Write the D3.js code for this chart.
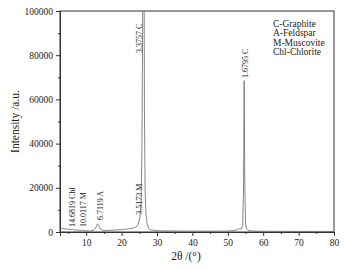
<!DOCTYPE html>
<html>
<head>
<meta charset="utf-8">
<script src="https://cdn.jsdelivr.net/npm/d3@7"></script>
<style>
  body { margin: 0; background: #fff; }
  text { font-family: "Liberation Serif", "Times New Roman", serif; fill: #222; }
</style>
</head>
<body>
<div id="chart"></div>
<script>
// XRD pattern
const twoTheta = [3, 4, 5, 5.8, 6.1, 6.5, 7.5, 8.6, 8.9, 9.3, 10, 11, 12, 12.6, 13.0, 13.3, 13.6, 14.0, 14.5, 15, 16, 18, 20, 22, 23, 24, 24.5, 24.9, 25.2, 25.5, 25.75, 25.95, 26.08, 26.3, 26.45, 26.65, 26.9, 27.2, 27.6, 28.1, 29, 30, 32, 35, 40, 45, 48, 50, 52, 52.8, 53.3, 53.8, 54.2, 54.45, 54.62, 54.78, 55.0, 55.3, 55.7, 56.5, 58, 60, 65, 70, 75, 80];
const intensity = [1600, 1400, 1200, 1100, 1300, 1000, 800, 700, 900, 650, 500, 450, 700, 1500, 3200, 3700, 2800, 1300, 800, 650, 700, 900, 1100, 1400, 1700, 2200, 3000, 4800, 7200, 13000, 38000, 95000, 160000, 160000, 55000, 18000, 8000, 3800, 1800, 1100, 800, 600, 500, 450, 400, 380, 400, 450, 700, 1200, 1500, 1300, 3000, 20000, 68500, 25000, 4000, 1500, 800, 500, 400, 350, 300, 280, 260, 250];

const peakLabels = ["14.6819 Chl", "10.0117 M", "6.7119 A", "3.5173 M", "3.3757 C", "1.6795 C"];
const peakTheta = [6.0, 9.0, 13.8, 24.9, 25.0, 55.0];
const peakLabelAt = [2300, 2300, 5400, 7800, 81000, 69700];

const legendLines = ["C-Graphite", "A-Feldspar", "M-Muscovite", "Chl-Chlorite"];

const xTicks = [10, 20, 30, 40, 50, 60, 70, 80];
const yTicks = [0, 20000, 40000, 60000, 80000, 100000];

const width = 351, height = 269;
const margin = {top: 11, right: 17, bottom: 37, left: 60};
const iw = width - margin.left - margin.right;
const ih = height - margin.top - margin.bottom;

const svg = d3.select("#chart").append("svg")
    .attr("width", width)
    .attr("height", height);

const x = d3.scaleLinear().domain([2.6, 80]).range([margin.left, margin.left + iw]);
const y = d3.scaleLinear().domain([0, 100000]).range([margin.top + ih, margin.top]);

svg.append("clipPath").attr("id", "clip")
  .append("rect")
    .attr("x", margin.left).attr("y", margin.top)
    .attr("width", iw).attr("height", ih);

// frame
svg.append("rect")
    .attr("x", margin.left).attr("y", margin.top)
    .attr("width", iw).attr("height", ih)
    .attr("fill", "none")
    .attr("stroke", "#333")
    .attr("stroke-width", 1);

// x axis, major + minor
svg.append("g")
    .attr("transform", `translate(0,${margin.top + ih})`)
    .call(d3.axisBottom(x).tickValues(xTicks).tickSize(4).tickPadding(3).tickFormat(d3.format("d")));
svg.append("g")
    .attr("transform", `translate(0,${margin.top + ih})`)
    .call(d3.axisBottom(x).tickValues(d3.range(5, 80, 10)).tickSize(2).tickFormat(""));

// y axis, major + minor
svg.append("g")
    .attr("transform", `translate(${margin.left},0)`)
    .call(d3.axisLeft(y).tickValues(yTicks).tickSize(4).tickPadding(3).tickFormat(d3.format("d")));
svg.append("g")
    .attr("transform", `translate(${margin.left},0)`)
    .call(d3.axisLeft(y).tickValues(d3.range(10000, 100000, 20000)).tickSize(2).tickFormat(""));

svg.selectAll(".domain").attr("stroke", "#333");
svg.selectAll(".tick line").attr("stroke", "#333");
svg.selectAll(".tick text")
    .attr("font-family", "Liberation Serif")
    .attr("font-size", "9.5px")
    .attr("fill", "#333");

// pattern
const pts = twoTheta.map((t, i) => [t, intensity[i]]);
svg.append("path")
    .datum(pts)
    .attr("clip-path", "url(#clip)")
    .attr("fill", "none")
    .attr("stroke", "#707070")
    .attr("stroke-width", 0.85)
    .attr("d", d3.line().x(d => x(d[0])).y(d => y(d[1])));

// peak labels
svg.selectAll(".plabel")
    .data(peakLabels)
    .join("text")
    .attr("class", "plabel")
    .attr("transform", (d, i) => `translate(${x(peakTheta[i]) + 3},${y(peakLabelAt[i])}) rotate(-90)`)
    .attr("font-size", "8px")
    .text(d => d);

// legend
svg.selectAll(".legend")
    .data(legendLines)
    .join("text")
    .attr("class", "legend")
    .attr("x", 273)
    .attr("y", (d, i) => 27 + i * 9.4)
    .attr("font-size", "9.5px")
    .text(d => d);

// axis titles
svg.append("text")
    .attr("transform", `translate(19,${margin.top + ih / 2}) rotate(-90)`)
    .attr("text-anchor", "middle")
    .attr("font-size", "11.5px")
    .text("Intensity /a.u.");

svg.append("text")
    .attr("x", 186)
    .attr("y", 260)
    .attr("text-anchor", "middle")
    .attr("font-size", "11.5px")
    .text("2θ /(°)");
</script>
</body>
</html>
